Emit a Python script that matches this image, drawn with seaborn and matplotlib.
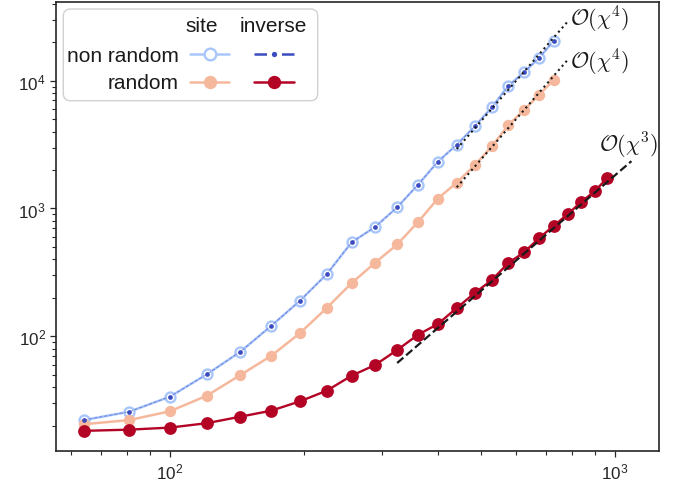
import numpy as np
import pandas as pd
import matplotlib
matplotlib.use("Agg")
import matplotlib.pyplot as plt
from matplotlib.lines import Line2D
from matplotlib.patches import FancyBboxPatch
from matplotlib.ticker import LogLocator, NullFormatter
import seaborn as sns

# ---------------- data ----------------
n_short = np.arange(8, 28)          # chi = n^2, n = 8..27
n_long = np.arange(8, 32)           # chi = n^2, n = 8..31
chi_short = n_short ** 2
chi_long = n_long ** 2

nonrandom_site = [22.1, 25.7, 33.7, 50.4, 75.8, 121, 190, 306, 544, 717,
                  1022, 1536, 2324, 3157, 4398, 6193, 9140, 11636, 15136, 20560]
nonrandom_inverse = [22.1, 25.7, 33.7, 50.4, 75.8, 121, 190, 306, 544, 717,
                     1022, 1536, 2324, 3157, 4398, 6193, 9140, 11636, 15136, 20560]
random_site = [20.5, 22.1, 25.9, 34.3, 49.8, 70.5, 106, 166.5, 261, 376,
               523, 784, 1195, 1595, 2178, 3067, 4502, 5898, 7773, 10181]
random_inverse = [18.2, 18.6, 19.3, 20.9, 23.5, 26.2, 31.0, 37.5, 49.2, 59.6,
                  78.1, 102.9, 124.8, 166.5, 218, 276, 375, 454, 588, 734,
                  906, 1130, 1363, 1733]

# scaling guides
fit4_chi = np.array([441.0, 784.0])
fit3_chi = np.array([324.0, 1089.0])
amp4_nonrandom = 7.723e-8
amp4_random = 3.873e-8
amp3_random = 1.817e-6

fit_labels = [r"$\mathcal{O}(\chi^4)$", r"$\mathcal{O}(\chi^4)$", r"$\mathcal{O}(\chi^3)$"]
row_labels = ["non random", "random"]
col_labels = ["site", "inverse"]

# colours
c_lightblue = "#a9c6fb"
c_darkblue = "#3b4cc0"
c_salmon = "#f6b89c"
c_red = "#b40426"

# ---------------- style ----------------
sns.set_theme(style="ticks")
plt.rcParams["font.family"] = ["Liberation Sans", "DejaVu Sans"]
plt.rcParams["mathtext.fontset"] = "custom"
plt.rcParams["mathtext.rm"] = "Liberation Sans"
plt.rcParams["mathtext.it"] = "Liberation Sans:italic"
plt.rcParams["mathtext.bf"] = "Liberation Sans:bold"

fig = plt.figure(figsize=(6.8, 4.81), dpi=100)
ax = fig.add_axes([0.08235, 0.06029, 0.88676, 0.93347])

# ---------------- data lines ----------------
sns.lineplot(x=chi_short, y=nonrandom_site, ax=ax, color=c_lightblue, lw=1.8,
             marker="o", markersize=7.2, markerfacecolor="white",
             markeredgecolor=c_lightblue, markeredgewidth=1.7, zorder=2)
# inverse (non random): thin dashed line + small dots
sns.lineplot(x=chi_short, y=nonrandom_inverse, ax=ax, color=c_darkblue, lw=0.7,
             linestyle="--", alpha=0.55, zorder=2.15)
sns.lineplot(x=chi_short, y=nonrandom_inverse, ax=ax, color=c_darkblue,
             linestyle="none", marker="o", markersize=3.4,
             markerfacecolor=c_darkblue, markeredgecolor=c_darkblue,
             markeredgewidth=0, zorder=2.2)
sns.lineplot(x=chi_short, y=random_site, ax=ax, color=c_salmon, lw=1.8,
             marker="o", markersize=8.2, markerfacecolor=c_salmon,
             markeredgecolor=c_salmon, markeredgewidth=0, zorder=2)
sns.lineplot(x=chi_long, y=random_inverse, ax=ax, color=c_red, lw=1.7,
             marker="o", markersize=9.2, markerfacecolor=c_red,
             markeredgecolor=c_red, markeredgewidth=0, zorder=2.1)

# scaling guides
ax.plot(fit4_chi, amp4_nonrandom * fit4_chi ** 4, color="k", ls=":", lw=1.5, zorder=3)
ax.plot(fit4_chi, amp4_random * fit4_chi ** 4, color="k", ls=":", lw=1.5, zorder=3)
ax.plot(fit3_chi, amp3_random * fit3_chi ** 3, color="k", ls="--", lw=1.6, zorder=3)

ax.set_xscale("log")
ax.set_yscale("log")
ax.set_xlim(55.44, 1256)
ax.set_ylim(12.66, 41290)

# annotations
ann_pos = [(792, 30400), (792, 14130), (920, 3155)]
for (xx, yy), lab in zip(ann_pos, fit_labels):
    ax.text(xx, yy, lab, math_fontfamily="cm", fontsize=16, ha="left", va="center",
            color="k")

# ticks and spines
for sp in ax.spines.values():
    sp.set_linewidth(1.2)
    sp.set_color("0.15")
ax.tick_params(which="major", length=4.3, width=0.9, labelsize=12.3, pad=3,
               colors="0.15")
ax.tick_params(which="minor", length=2.6, width=0.8, colors="0.15")
ax.xaxis.set_minor_formatter(NullFormatter())
ax.yaxis.set_minor_formatter(NullFormatter())
ax.yaxis.set_major_locator(LogLocator(base=10, numticks=10))
ax.yaxis.set_minor_locator(LogLocator(base=10, subs=np.arange(2, 10), numticks=10))
ax.set_xlabel("")
ax.set_ylabel("")

# ---------------- custom grid legend ----------------
def axx(px):
    return (px - 56) / 603.0

def axy(py):
    return (452 - py) / 449.0

box = FancyBboxPatch((axx(63.3), axy(101.7)), axx(317.7) - axx(63.3),
                     axy(10) - axy(101.7),
                     boxstyle="round,pad=0,rounding_size=0.012",
                     mutation_aspect=603 / 449.0,
                     transform=ax.transAxes, facecolor="white",
                     edgecolor="0.82", lw=1.0, zorder=5, clip_on=False)
ax.add_patch(box)

lg_fs = 15
ax.text(axx(201.7), axy(31.7), col_labels[0], transform=ax.transAxes,
        ha="center", va="baseline", fontsize=lg_fs, zorder=6, color="0.1")
ax.text(axx(273.0), axy(31.7), col_labels[1], transform=ax.transAxes,
        ha="center", va="baseline", fontsize=lg_fs, zorder=6, color="0.1")
ax.text(axx(179), axy(61.7), row_labels[0], transform=ax.transAxes,
        ha="right", va="baseline", fontsize=lg_fs, zorder=6, color="0.1")
ax.text(axx(179), axy(89.3), row_labels[1], transform=ax.transAxes,
        ha="right", va="baseline", fontsize=lg_fs, zorder=6, color="0.1")

site_x = [axx(190), axx(229.3)]
inv_x = [axx(254), axx(294)]
row1_y = axy(55)
row2_y = axy(83.3)

handles = [
    Line2D(site_x, [row1_y] * 2, color=c_lightblue, lw=1.8),
    Line2D([np.mean(site_x)], [row1_y], marker="o", ms=8.4, mfc="white",
           mec=c_lightblue, mew=1.7, ls="none"),
    Line2D(inv_x, [row1_y] * 2, color=c_darkblue, lw=1.8, ls="--",
           dashes=(5.0, 6.0)),
    Line2D([np.mean(inv_x)], [row1_y], marker="o", ms=3.8, mfc=c_darkblue,
           mec=c_darkblue, mew=0, ls="none"),
    Line2D(site_x, [row2_y] * 2, color=c_salmon, lw=1.8),
    Line2D([np.mean(site_x)], [row2_y], marker="o", ms=9.6, mfc=c_salmon,
           mec=c_salmon, mew=0, ls="none"),
    Line2D(inv_x, [row2_y] * 2, color=c_red, lw=1.8),
    Line2D([np.mean(inv_x)], [row2_y], marker="o", ms=9.6, mfc=c_red,
           mec=c_red, mew=0, ls="none"),
]
for h in handles:
    h.set_transform(ax.transAxes)
    h.set_zorder(6)
    h.set_clip_on(False)
    ax.add_artist(h)

fig.savefig("out.png", dpi=100)
